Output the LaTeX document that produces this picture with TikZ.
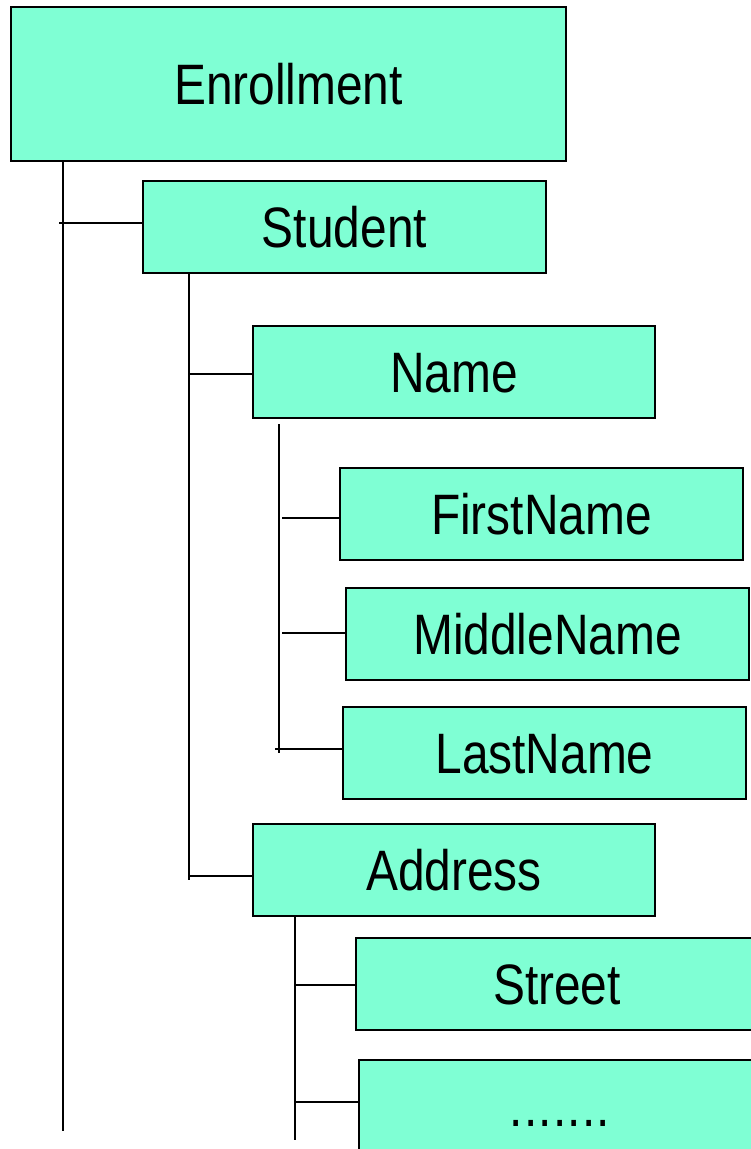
\documentclass[tikz,border=0pt]{standalone}
\usepackage{fontspec}
\setmainfont{Liberation Sans}[FakeStretch=0.84]
\definecolor{boxfill}{HTML}{7FFFD4}
\newcommand{\spaceddots}{.\hspace{1.2pt}.\hspace{1.2pt}.\hspace{1.2pt}.\hspace{1.2pt}.\hspace{1.2pt}.\hspace{1.2pt}.}
\tikzset{
  x=1pt, y=-1pt,
  elem/.style={draw=black, fill=boxfill, line width=1.5pt, rectangle,
    anchor=north west, inner sep=0pt, outer sep=0pt,
    minimum width=#1, minimum height=92pt,
    font=\fontsize{57}{60}\selectfont, text height=40.8pt, text depth=0pt},
  elem/.default=402pt,
  link/.style={line width=1.6pt, draw=black}
}
\begin{document}
\begin{tikzpicture}
\useasboundingbox (0,0) rectangle (751,1149);
\clip (0,0) rectangle (751,1149);

% element boxes
\node[elem=555pt, minimum height=154pt] (enr) at (11,7) {Enrollment};
\node[elem=403pt] (stu) at (143,181) {Student};
\node[elem] (name) at (253,326) {Name};
\node[elem=403pt] (first) at (340,468) {FirstName};
\node[elem=403pt] (middle) at (346,588) {MiddleName};
\node[elem=403pt] (last) at (343,707) {LastName};
\node[elem] (addr) at (253,824) {Address};
\node[elem] (street) at (356,938) {Street};
\node[elem, minimum height=93pt] (more) at (359,1060) {\spaceddots};

% trunk end points
\coordinate (t0) at (63,1131);
\coordinate (b0) at (59,223);
\coordinate (t1) at (189,880);
\coordinate (b1a) at (189,374);
\coordinate (b1b) at (189,876);
\coordinate (t2a) at (279,424);
\coordinate (t2b) at (279,753);
\coordinate (b2a) at (282,518);
\coordinate (b2b) at (282,633);
\coordinate (b2c) at (275,749);
\coordinate (t3) at (295,1140);
\coordinate (b3a) at (295,985);
\coordinate (b3b) at (295,1102);

% Enrollment children
\draw[link] (enr.south -| t0) -- (t0);
\draw[link] (b0) -- (b0 -| stu.west);

% Student children
\draw[link] (stu.south -| t1) -- (t1);
\draw[link] (b1a) -- (b1a -| name.west);
\draw[link] (b1b) -- (b1b -| addr.west);

% Name children
\draw[link] (t2a) -- (t2b);
\draw[link] (b2a) -- (b2a -| first.west);
\draw[link] (b2b) -- (b2b -| middle.west);
\draw[link] (b2c) -- (b2c -| last.west);

% Address children
\draw[link] (addr.south -| t3) -- (t3);
\draw[link] (b3a) -- (b3a -| street.west);
\draw[link] (b3b) -- (b3b -| more.west);
\end{tikzpicture}
\end{document}
